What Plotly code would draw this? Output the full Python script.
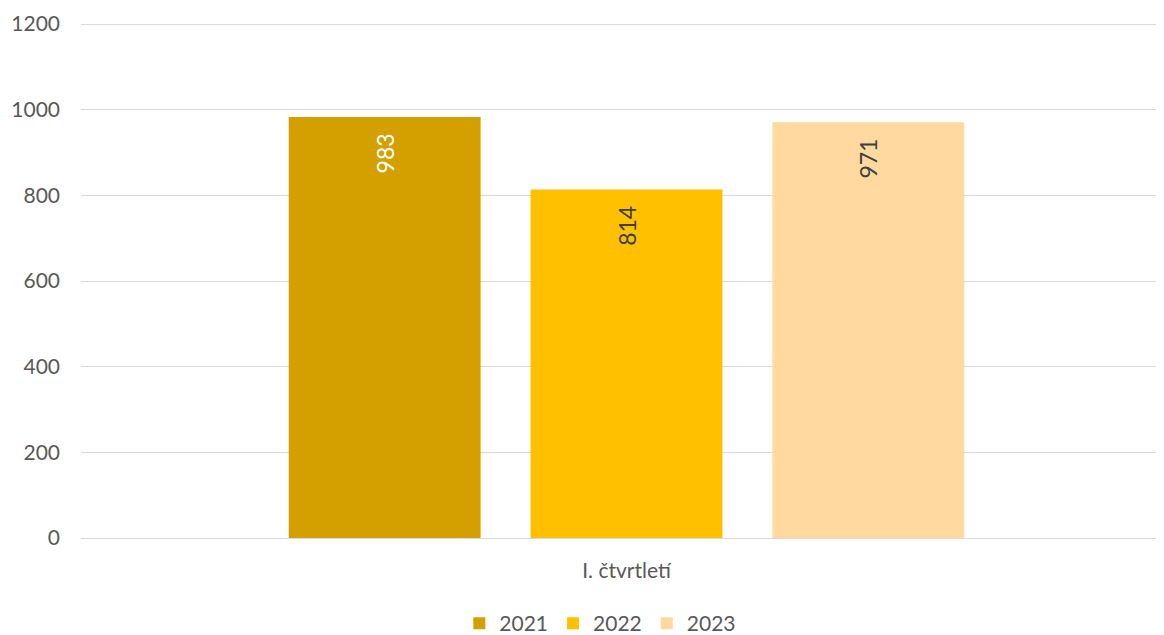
import plotly.graph_objects as go

categories = ["I. čtvrtletí"]
years = ["2021", "2022", "2023"]
values = [[983], [814], [971]]
colors = ["#D4A000", "#FFC000", "#FFD9A0"]
label_colors = ["#FFFFFF", "#404040", "#404040"]
y_ticks = [0, 200, 400, 600, 800, 1000, 1200]

FONT = "Lato, Open Sans, sans-serif"
PAD = "\u2007"

fig = go.Figure()
for yr, vals, col, lc in zip(years, values, colors, label_colors):
    fig.add_trace(go.Bar(
        name=yr, x=categories, y=vals,
        marker=dict(color=col, line=dict(width=0)),
        text=[str(v) + PAD for v in vals],
        textposition="inside", insidetextanchor="end", textangle=-90,
        textfont=dict(family=FONT, size=23, color=lc),
        constraintext="none",
    ))

fig.update_layout(
    width=1164, height=635,
    paper_bgcolor="white", plot_bgcolor="white",
    margin=dict(l=73, r=0, t=14, b=105, autoexpand=False),
    barmode="group", bargap=0.335, bargroupgap=0.2066,
    font=dict(family=FONT, color="#595959", size=20),
    showlegend=True,
    legend=dict(orientation="h", x=0.476, xanchor="center", y=-0.126, yanchor="top",
                font=dict(size=21, color="#595959"), traceorder="normal",
                itemwidth=30),
)
fig.update_xaxes(range=[-0.5, 0.5], showgrid=False, showline=False, ticks="",
                 automargin=False, ticklabelstandoff=18,
                 tickfont=dict(size=21, color="#595959"))
fig.update_yaxes(range=[0, 1205], tickvals=y_ticks, showgrid=True, gridcolor="#D9D9D9",
                 gridwidth=1.3, zeroline=True, zerolinecolor="#D9D9D9", zerolinewidth=1.3,
                 showline=False, ticks="", ticklabelstandoff=20, automargin=False,
                 tickfont=dict(size=21, color="#595959"))

fig.write_html("out.html")
